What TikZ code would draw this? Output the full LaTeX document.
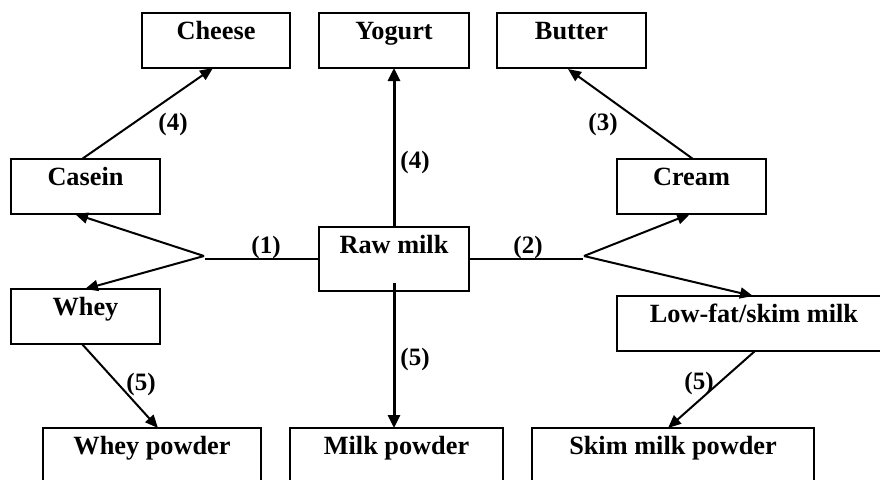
\documentclass[tikz,border=0pt]{standalone}
\usepackage{fontspec}
\setmainfont{Liberation Serif}
\usetikzlibrary{arrows.meta,calc}
\begin{document}
\begin{tikzpicture}[x=1pt,y=-1pt,
  box/.style={draw, line width=2pt, inner xsep=0pt, inner ysep=0pt, outer sep=0pt,
    text height=26pt, text depth=29pt, anchor=north west,
    font=\bfseries\fontsize{26.3}{30}\selectfont},
  lab/.style={anchor=base, inner sep=0pt, font=\bfseries\fontsize{25}{30}\selectfont},
  conn/.style={line width=2pt},
  arr/.style={line width=2pt, -{Triangle[length=13pt,width=11pt]}},
  varr/.style={line width=3pt, -{Triangle[length=13pt,width=12pt]}}]
\useasboundingbox (0,0) rectangle (880,479);
\clip (0,0) rectangle (880,479);
\fill[white] (0,0) rectangle (880,479);
% boxes
\node[box, minimum width=148pt] (cheese) at (142,13) {Cheese};
\node[box, minimum width=150pt] (yogurt) at (319,13) {Yogurt};
\node[box, minimum width=149pt] (butter) at (497,13) {Butter};
\node[box, minimum width=149pt] (casein) at (11,159) {Casein};
\node[box, minimum width=149pt] (cream) at (617,159) {Cream};
\node[box, minimum width=150pt, text depth=38pt] (raw) at (319,227) {Raw milk};
\node[box, minimum width=149pt] (whey) at (11,289) {Whey};
\node[box, minimum width=274pt] (lowfat) at (617,296) {Low-fat/skim milk};
\node[box, minimum width=218pt, text depth=80pt] (wheypowder) at (43,428) {Whey powder};
\node[box, minimum width=213pt, text depth=80pt] (milkpowder) at (290,428) {Milk powder};
\node[box, minimum width=282pt, text depth=80pt] (skimpowder) at (532,428) {Skim milk powder};
% junction points
\coordinate (hl) at (205,259);
\coordinate (vl) at (204,256);
\coordinate (hr) at (583,259);
\coordinate (vr) at (584,256);
% connectors
\draw[conn] (raw.west) -- (hl);
\draw[arr] (vl) -- ([xshift=64pt]casein.south west);
\draw[arr] (vl) -- ([xshift=74pt]whey.north west);
\draw[conn] (raw.east) -- (hr);
\draw[arr] (vr) -- ([xshift=73pt]cream.south west);
\draw[arr] (vr) -- ([xshift=136pt]lowfat.north west);
\draw[arr] ([xshift=71pt]casein.north west) -- ([xshift=71pt]cheese.south west);
\draw[varr] (raw.north) -- (yogurt.south);
\draw[arr] ([xshift=76pt]cream.north west) -- ([xshift=71pt,yshift=-1pt]butter.south west);
\draw[arr] ([xshift=71pt]whey.south west) -- ([xshift=115pt]wheypowder.north west);
\draw[varr] ([yshift=8pt]raw.south) -- (milkpowder.north west -| raw.south);
\draw[arr] ([xshift=138pt]lowfat.south west) -- ([xshift=136pt]skimpowder.north west);
% labels
\node[lab] (l1) at (266,253) {(1)};
\node[lab] (l2) at (528,253) {(2)};
\node[lab] (l4a) at (173,130) {(4)};
\node[lab] (l4b) at (415,168) {(4)};
\node[lab] (l3) at (603,130) {(3)};
\node[lab] (l5a) at (141,390) {(5)};
\node[lab] (l5b) at (415,365) {(5)};
\node[lab] (l5c) at (699,389) {(5)};
\end{tikzpicture}
\end{document}
